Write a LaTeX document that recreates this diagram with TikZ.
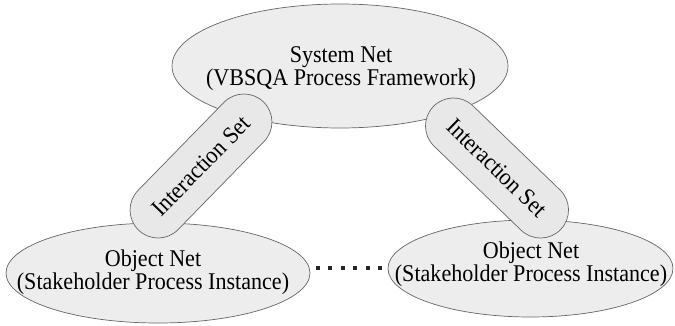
\documentclass[tikz,border=0pt]{standalone}
\usepackage{fontspec}
\setmainfont[FakeStretch=0.92]{Liberation Serif}
\usetikzlibrary{shapes.geometric,shapes.misc}
\tikzset{
  netellipse/.style={ellipse, draw=black!60, line width=0.7pt, fill=black!7, inner sep=0pt},
  toptext/.style={inner sep=0pt, align=center, font=\fontsize{24}{23}\selectfont},
  bottext/.style={inner sep=0pt, align=center, font=\fontsize{24}{20}\selectfont},
  pill/.style={rounded rectangle, draw=black!60, line width=0.7pt, fill=black!9, inner sep=0pt,
    minimum height=56pt, font=\fontsize{24}{24}\selectfont},
  dotline/.style={line width=4pt, dash pattern=on 4pt off 8.4pt, black!85}
}
\begin{document}
\begin{tikzpicture}[x=1pt,y=1pt]
\useasboundingbox (0,0) rectangle (675,325);
\node[netellipse, minimum width=336pt, minimum height=124pt] (sys) at (340,259) {};
\node[toptext] (systxt) at (341,256) {System Net\\(VBSQA Process Framework)};
\node[netellipse, minimum width=304pt, minimum height=100pt] (objL) at (158,52) {};
\node[bottext] (objLtxt) at (153,53) {Object Net\\(Stakeholder Process Instance)};
\node[netellipse, minimum width=285pt, minimum height=97pt] (objR) at (530.5,56.5) {};
\node[bottext] (objRtxt) at (531,61) {Object Net\\(Stakeholder Process Instance)};
\node[pill, minimum width=179pt, rotate=45.7] (isL) at (201,159) {Interaction Set};
\node[pill, minimum width=177pt, rotate=-44] (isR) at (497,157) {Interaction Set};
\coordinate (d1) at (316,57.5);
\coordinate (d2) at (382,57.5);
\draw[dotline] (d1) -- (d2);
\end{tikzpicture}
\end{document}
